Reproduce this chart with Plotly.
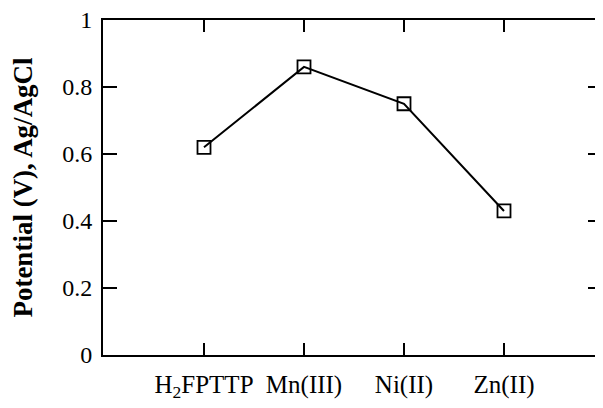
import plotly.graph_objects as go

categories = ["H<sub>2</sub>FPTTP", "Mn(III)", "Ni(II)", "Zn(II)"]
potential = [0.62, 0.86, 0.75, 0.43]
y_ticks = [0, 0.2, 0.4, 0.6, 0.8, 1]
y_tick_labels = ["0", "0.2", "0.4", "0.6", "0.8", "1"]

x_idx = list(range(len(categories)))

fig = go.Figure()
fig.add_trace(go.Scatter(
    x=x_idx, y=potential, mode="lines+markers",
    line=dict(color="black", width=2),
    marker=dict(symbol="square-open", size=13, color="black", line=dict(width=1.8, color="black")),
    showlegend=False,
))

fam = "Liberation Serif, Times New Roman, serif"
font = dict(family=fam, size=24, color="black")
# page body has an 8px default margin, so the figure is sized/offset to compensate
fig.update_layout(
    width=595, height=400,
    margin=dict(l=95, r=1, t=12, b=53),
    paper_bgcolor="white", plot_bgcolor="white",
    font=font,
    xaxis=dict(
        range=[-1.01, 3.98], tickvals=x_idx, ticktext=categories,
        ticks="inside", ticklen=12, tickwidth=2, tickcolor="black",
        showline=True, linewidth=2, linecolor="black", mirror="ticks",
        showgrid=False, zeroline=False, tickfont=dict(family=fam, size=25, color="black"),
        automargin=False, ticklabeloverflow="allow", ticklabelstandoff=6,
    ),
    yaxis=dict(
        range=[0, 1], tickvals=y_ticks, ticktext=y_tick_labels,
        ticks="inside", ticklen=14, tickwidth=2, tickcolor="black",
        showline=True, linewidth=2, linecolor="black", mirror="ticks",
        showgrid=False, zeroline=False, tickfont=font, ticklabelstandoff=4,
        automargin=False, ticklabeloverflow="allow",
        title=dict(text="<b>Potential (V), Ag/AgCl</b>", font=dict(family=fam, size=27, color="black"), standoff=24),
    ),
)
fig.write_html("out.html")
